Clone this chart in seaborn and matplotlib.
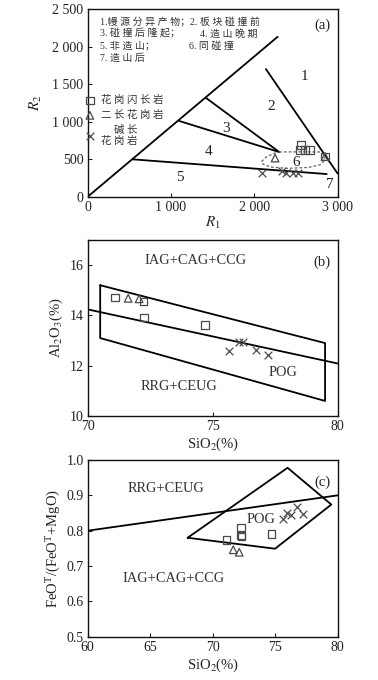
import matplotlib
matplotlib.use("Agg")
import matplotlib.pyplot as plt
import seaborn as sns
from matplotlib.ticker import FixedLocator, FixedFormatter

sns.set_theme(style="ticks")
plt.rcParams['font.family'] = ['Liberation Serif', 'Noto Sans CJK SC', 'DejaVu Sans']
plt.rcParams['mathtext.fontset'] = 'stix'
plt.rcParams['axes.linewidth'] = 1.0

# ---------------- data: panel (a) R1-R2 ----------------
a_sq_r1 = [2560, 2550, 2610, 2670, 2850]
a_sq_r2 = [690, 620, 620, 620, 535]
a_tri_r1 = [2250, 2850]
a_tri_r2 = [515, 535]
a_x_r1 = [2090, 2330, 2380, 2460, 2530]
a_x_r2 = [310, 345, 320, 315, 315]

a_diag_x = [0, 2280]
a_diag_y = [0, 2130]
a_b12_x = [2140, 3000]
a_b12_y = [1700, 310]
a_b3_x = [1416, 2300]
a_b3_y = [1320, 595]
a_b4_x = [1096, 2300]
a_b4_y = [1010, 595]
a_b5_x = [540, 2870]
a_b5_y = [498, 302]
a_z6_x = [2300, 2550, 2800, 2850, 2830, 2790, 2650, 2400, 2200, 2100, 2090, 2150, 2240, 2300]
a_z6_y = [596, 598, 596, 540, 470, 425, 390, 378, 395, 435, 470, 533, 578, 596]
a_zone_labels = ['1', '2', '3', '4', '5', '6', '7']
a_zone_x = [2608, 2208, 1660, 1456, 1108, 2508, 2908]
a_zone_y = [1600, 1200, 912, 600, 253, 453, 165]
a_xticks = [0, 1000, 2000, 3000]
a_xticklabels = ['0', '1 000', '2 000', '3 000']
a_yticks = [0, 500, 1000, 1500, 2000, 2500]
a_yticklabels = ['0', '500', '1 000', '1 500', '2 000', '2 500']
a_key_col1 = ['1.幔 源 分 异 产 物；', '3. 碰 撞 后 隆 起；', '5. 非 造 山；', '7. 造 山 后']
a_key_col2 = ['2. 板 块 碰 撞 前', '4. 造 山 晚 期', '6. 同 碰 撞', '']
rock_names = ['花 岗 闪 长 岩', '二 长 花 岗 岩', '碱 长\n花 岗 岩']

# ---------------- data: panel (b) SiO2-Al2O3 ----------------
b_sq_si = [71.09, 72.23, 72.26, 74.69]
b_sq_al = [14.72, 14.56, 13.92, 13.62]
b_tri_si = [71.62, 72.06]
b_tri_al = [14.68, 14.66]
b_x_si = [75.66, 76.05, 76.22, 76.72, 77.22]
b_x_al = [12.59, 12.94, 12.96, 12.63, 12.43]
b_poly_x = [70.5, 79.5, 79.5, 70.5, 70.5]
b_poly_y = [15.2, 12.9, 10.6, 13.1, 15.2]
b_div_x = [70, 80]
b_div_y = [14.24, 12.09]
b_xticks = [70, 75, 80]
b_yticks = [10, 12, 14, 16]

# ---------------- data: panel (c) SiO2-FeOT/(FeOT+MgO) ----------------
c_sq_si = [71.1, 72.26, 72.26, 72.3, 74.7]
c_sq_fe = [0.773, 0.809, 0.786, 0.783, 0.790]
c_tri_si = [71.65, 72.13]
c_tri_fe = [0.746, 0.739]
c_x_si = [75.65, 75.97, 76.26, 76.72, 77.2]
c_x_fe = [0.832, 0.851, 0.845, 0.868, 0.846]
c_poly_x = [68.0, 76.0, 79.5, 75.0, 68.0]
c_poly_y = [0.780, 0.978, 0.874, 0.749, 0.780]
c_div_x = [60, 80]
c_div_y = [0.80, 0.90]
c_xticks = [60, 65, 70, 75, 80]
c_yticks = [0.5, 0.6, 0.7, 0.8, 0.9, 1.0]
c_yticklabels = ['0.5', '0.6', '0.7', '0.8', '0.9', '1.0']

MCOL = '#4a4a4a'
TXT = '#333333'
LW = 1.3
TFS = 10
LFS = 10.4

fig = plt.figure(figsize=(3.78, 6.80), dpi=100)
axA = fig.add_axes([0.232, 0.7107, 0.661, 0.276])
axB = fig.add_axes([0.232, 0.3882, 0.661, 0.2589])
axC = fig.add_axes([0.232, 0.0637, 0.661, 0.2598])


def points(ax, sx, sy, tx, ty, xx, xy, labels=None):
    lab = labels if labels else [None, None, None]
    sns.scatterplot(x=sx, y=sy, marker='s', s=30, facecolors='none',
                    edgecolor=MCOL, linewidth=0.9, ax=ax, label=lab[0], zorder=5)
    sns.scatterplot(x=tx, y=ty, marker='^', s=30, facecolors='none',
                    edgecolor=MCOL, linewidth=0.9, ax=ax, label=lab[1], zorder=5)
    sns.scatterplot(x=xx, y=xy, marker='x', s=30, color=MCOL,
                    linewidth=0.9, ax=ax, label=lab[2], zorder=5)


def style(ax, xt, xtl, yt, ytl):
    ax.xaxis.set_major_locator(FixedLocator(xt))
    ax.xaxis.set_major_formatter(FixedFormatter(xtl))
    ax.yaxis.set_major_locator(FixedLocator(yt))
    ax.yaxis.set_major_formatter(FixedFormatter(ytl))
    ax.tick_params(direction='in', length=3, width=0.8, labelsize=TFS, pad=3,
                   colors='#222222')
    for sp in ax.spines.values():
        sp.set_color('#111111')
        sp.set_linewidth(1.0)
    ax.set_facecolor('white')


# ---------- panel (a) ----------
for bx, by in [(a_diag_x, a_diag_y), (a_b12_x, a_b12_y), (a_b3_x, a_b3_y),
               (a_b4_x, a_b4_y), (a_b5_x, a_b5_y)]:
    axA.plot(bx, by, color='black', lw=LW)
axA.plot(a_z6_x, a_z6_y, color='#666666', lw=0.9, ls=(0, (2.2, 1.6)))
points(axA, a_sq_r1, a_sq_r2, a_tri_r1, a_tri_r2, a_x_r1, a_x_r2,
       labels=rock_names)
for t, x, y in zip(a_zone_labels, a_zone_x, a_zone_y):
    axA.text(x, y, t, ha='center', va='center', fontsize=11, color='#222222')
axA.set_xlim(0, 3000)
axA.set_ylim(0, 2500)
style(axA, a_xticks, a_xticklabels, a_yticks, a_yticklabels)
axA.set_xlabel('$R_1$', fontsize=11, labelpad=1)
axA.set_ylabel('$R_2$', fontsize=11, labelpad=6)
ky = [0.928, 0.869, 0.803, 0.739]
x2s = [0.41, 0.45, 0.405]
for i, (c1, c2) in enumerate(zip(a_key_col1, a_key_col2)):
    axA.text(0.048, ky[i], c1, transform=axA.transAxes, fontsize=7.2,
             va='center', ha='left', color=TXT)
    if c2:
        axA.text(x2s[i], ky[i], c2, transform=axA.transAxes, fontsize=7.2,
                 va='center', ha='left', color=TXT)
axA.text(0.97, 0.915, '(a)', transform=axA.transAxes, fontsize=10.5,
         ha='right', va='center', color='#222222')
leg = axA.legend(loc='upper left', bbox_to_anchor=(-0.01, 0.54), frameon=False,
                 fontsize=7.5, handlelength=0.9, handletextpad=0.6,
                 labelspacing=0.45, borderpad=0.0, borderaxespad=0.0,
                 markerscale=1.0)
for t in leg.get_texts():
    t.set_color(TXT)
    t.set_multialignment('right')

# ---------- panel (b) ----------
axB.plot(b_poly_x, b_poly_y, color='black', lw=LW)
axB.plot(b_div_x, b_div_y, color='black', lw=LW)
points(axB, b_sq_si, b_sq_al, b_tri_si, b_tri_al, b_x_si, b_x_al)
axB.set_xlim(70, 80)
axB.set_ylim(10, 17)
style(axB, b_xticks, [str(v) for v in b_xticks], b_yticks, [str(v) for v in b_yticks])
axB.text(74.3, 16.18, 'IAG+CAG+CCG', fontsize=LFS, ha='center', va='center', color=TXT)
axB.text(73.65, 11.19, 'RRG+CEUG', fontsize=LFS, ha='center', va='center', color=TXT)
axB.text(77.82, 11.72, 'POG', fontsize=LFS, ha='center', va='center', color=TXT)
axB.text(0.97, 0.875, '(b)', transform=axB.transAxes, fontsize=10.5,
         ha='right', va='center', color='#222222')
axB.set_xlabel('SiO$_2$(%)', fontsize=10.5, labelpad=2)
axB.set_ylabel('Al$_2$O$_3$(%)', fontsize=10.5, labelpad=3)

# ---------- panel (c) ----------
axC.plot(c_poly_x, c_poly_y, color='black', lw=LW)
axC.plot(c_div_x, c_div_y, color='black', lw=LW)
points(axC, c_sq_si, c_sq_fe, c_tri_si, c_tri_fe, c_x_si, c_x_fe)
axC.set_xlim(60, 80)
axC.set_ylim(0.5, 1.0)
style(axC, c_xticks, [str(v) for v in c_xticks], c_yticks, c_yticklabels)
axC.text(66.3, 0.918, 'RRG+CEUG', fontsize=LFS, ha='center', va='center', color=TXT)
axC.text(66.9, 0.666, 'IAG+CAG+CCG', fontsize=LFS, ha='center', va='center', color=TXT)
axC.text(73.9, 0.833, 'POG', fontsize=LFS, ha='center', va='center', color=TXT)
axC.text(0.97, 0.875, '(c)', transform=axC.transAxes, fontsize=10.5,
         ha='right', va='center', color='#222222')
axC.set_xlabel('SiO$_2$(%)', fontsize=10.5, labelpad=2)
axC.set_ylabel('FeO$^{\\mathrm{T}}$/(FeO$^{\\mathrm{T}}$+MgO)', fontsize=10.5, labelpad=3)

fig.savefig('out.png', dpi=100, facecolor='white')
